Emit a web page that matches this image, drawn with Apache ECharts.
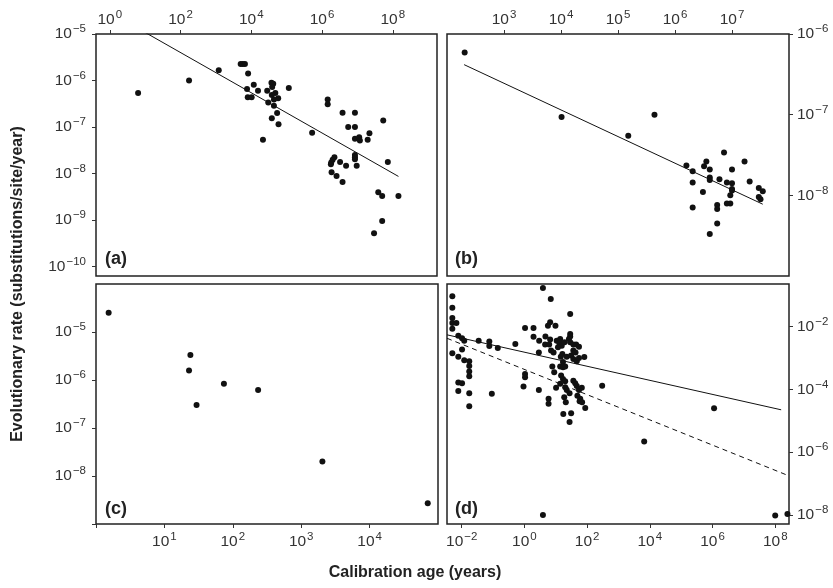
<!DOCTYPE html>
<html>
<head>
<meta charset="utf-8">
<script src="https://cdn.jsdelivr.net/npm/echarts@6/dist/echarts.min.js"></script>
<style>
  html, body { margin: 0; background: #fff; }
  #main { width: 833px; height: 588px; }
</style>
</head>
<body>
<div id="main"></div>
<script>
// all values are log10 (age in years, rate in substitutions/site/year)

// panel (a)
const ptsA = [
  [0.80,-6.27],[2.24,-6.00],[3.08,-5.78],[3.70,-5.645],[3.76,-5.645],[3.82,-5.645],
  [3.91,-5.85],[3.88,-6.18],[4.07,-6.09],[4.19,-6.22],[3.90,-6.36],[4.01,-6.36],
  [4.45,-6.22],[4.57,-6.05],[4.62,-6.07],[4.59,-6.14],[4.48,-6.47],[4.58,-6.31],
  [4.68,-6.27],[4.64,-6.41],[4.76,-6.38],[4.64,-6.54],[4.73,-6.70],[4.58,-6.81],
  [4.77,-6.94],[5.06,-6.16],[4.33,-7.27],[5.72,-7.12],[6.16,-6.41],[6.16,-6.51],
  [6.58,-6.69],[6.93,-6.69],[6.74,-7.00],[6.93,-7.00],[6.93,-7.25],[7.05,-7.22],
  [7.07,-7.29],[7.29,-7.27],[7.34,-7.13],[7.73,-6.86],[6.93,-7.60],[6.93,-7.65],
  [6.93,-7.69],[6.98,-7.83],[6.35,-7.65],[6.30,-7.70],[6.26,-7.76],[6.25,-7.80],
  [6.51,-7.75],[6.68,-7.83],[6.27,-7.97],[6.41,-8.05],[6.58,-8.18],[7.86,-7.75],
  [7.59,-8.40],[7.70,-8.48],[8.16,-8.48],[7.70,-9.02],[7.47,-9.28]
];
const fitA = [[0.80,-4.88],[8.16,-8.06]];

// panel (b)
const ptsB = [
  [2.31,-6.23],[4.01,-7.03],[5.18,-7.26],[5.64,-7.00],[6.20,-7.63],[6.31,-7.70],
  [6.31,-7.84],[6.31,-8.15],[6.49,-7.96],[6.51,-7.64],[6.55,-7.58],[6.61,-7.68],
  [6.61,-7.78],[6.61,-7.81],[6.61,-8.48],[6.74,-8.12],[6.74,-8.17],[6.74,-8.35],
  [6.78,-7.80],[6.86,-7.47],[6.91,-7.84],[6.91,-8.10],[6.97,-8.10],[6.97,-8.00],
  [7.00,-7.68],[7.00,-7.85],[7.00,-7.92],[7.00,-7.94],[7.22,-7.58],[7.31,-7.83],
  [7.47,-7.91],[7.47,-8.02],[7.50,-8.05],[7.54,-7.95]
];
const fitB = [[2.30,-6.38],[7.54,-8.11]];

// panel (c)
const ptsC = [
  [0.185,-4.60],[1.38,-5.48],[1.36,-5.80],[1.47,-6.52],[1.87,-6.08],[2.37,-6.21],
  [3.31,-7.70],[4.85,-8.57]
];

// panel (d)
const ptsD = [
  [-2.30,-1.03],[-2.30,-1.40],[-2.30,-1.72],[-2.30,-1.88],[-2.17,-1.88],[-2.30,-2.07],
  [-2.11,-2.29],[-1.99,-2.37],[-1.92,-2.45],[-1.46,-2.45],[-1.12,-2.47],[-1.12,-2.62],
  [-0.85,-2.68],[-0.29,-2.55],[-2.30,-2.85],[-1.99,-2.73],[-2.11,-2.96],[-1.92,-3.07],
  [-1.76,-3.10],[-1.76,-3.25],[-1.76,-3.43],[-1.76,-3.58],[-2.11,-3.78],[-1.99,-3.80],
  [-2.11,-4.05],[-1.76,-4.12],[-1.04,-4.14],[-1.76,-4.54],
  [0.59,-0.77],[0.84,-1.12],[1.46,-1.60],[0.75,-1.97],[0.82,-1.86],[0.99,-1.97],
  [0.02,-2.04],[0.29,-2.04],[1.46,-2.23],[1.46,-2.31],[0.29,-2.32],[0.47,-2.45],
  [0.67,-2.31],[0.82,-2.41],[0.66,-2.57],[0.79,-2.57],[1.03,-2.45],[1.14,-2.39],
  [1.12,-2.53],[1.19,-2.61],[1.28,-2.50],[1.07,-2.66],[1.42,-2.39],[1.46,-2.50],
  [1.56,-2.57],[1.65,-2.57],[1.74,-2.64],[0.85,-2.76],[0.93,-2.82],[0.46,-2.82],
  [1.21,-2.87],[1.16,-2.96],[1.35,-2.96],[1.49,-2.92],[1.56,-2.76],[1.63,-2.82],
  [1.56,-3.03],[1.67,-3.10],[1.74,-3.00],[1.91,-2.97],[1.23,-3.13],[1.14,-3.27],
  [1.23,-3.29],[1.30,-3.27],[0.89,-3.27],[0.95,-3.45],[0.02,-3.51],[0.02,-3.61],
  [-0.03,-3.91],[0.46,-4.02],[1.01,-3.95],[1.17,-3.56],[1.23,-3.67],[1.30,-3.74],
  [1.14,-3.82],[1.30,-3.93],[1.35,-4.02],[1.44,-4.12],[1.56,-3.72],[1.62,-3.80],
  [1.67,-3.89],[1.74,-4.02],[1.83,-3.95],[1.69,-4.20],[1.78,-4.30],[1.76,-4.38],
  [1.84,-4.41],[1.27,-4.25],[1.32,-4.41],[0.77,-4.30],[0.77,-4.46],[1.94,-4.59],
  [1.24,-4.78],[1.49,-4.76],[1.44,-5.04],[2.48,-3.88],
  [3.82,-5.66],[6.05,-4.60],[0.59,-8.00],[8.00,-8.02],[8.39,-7.97]
];
const fitD = [[-2.47,-2.26],[8.19,-4.65]];
const fitDdash = [[-2.47,-2.37],[8.35,-6.72]];

// tick exponents
const xTicksA = [0, 2, 4, 6, 8];
const yTicksA = [-5, -6, -7, -8, -9, -10];
const xTicksB = [3, 4, 5, 6, 7];
const yTicksB = [-6, -7, -8];
const xTicksC = [0, 1, 2, 3, 4];
const xLabelsC = [1, 2, 3, 4];
const yTicksC = [-5, -6, -7, -8, -9];
const yLabelsC = [-5, -6, -7, -8];
const xTicksD = [-2, 0, 2, 4, 6, 8];
const yTicksD = [-2, -4, -6, -8];

const FONT = 'Liberation Sans, Arial, sans-serif';
const rich = {
  b: { fontSize: 15.5, color: '#333', fontFamily: FONT, lineHeight: 16, verticalAlign: 'bottom' },
  s: { fontSize: 11.5, color: '#333', fontFamily: FONT, lineHeight: 16, verticalAlign: 'bottom', padding: [0, 0, 7, 1] }
};
function pow10(v) {
  const e = v < 0 ? '\u2212' + (-v) : String(v);
  return '{b|10}{s|' + e + '}';
}

function axis(gridIndex, position, min, max, ticks, labels, margin) {
  return {
    type: 'value', gridIndex: gridIndex, position: position, min: min, max: max,
    axisLine: { show: false, onZero: false },
    splitLine: { show: false },
    axisTick: { show: true, length: 4, customValues: ticks, lineStyle: { color: '#333', width: 1 } },
    axisLabel: { show: true, customValues: labels || ticks, margin: margin, formatter: pow10, rich: rich }
  };
}

function scatter(i, pts) {
  return {
    type: 'scatter', xAxisIndex: i, yAxisIndex: i, data: pts,
    symbolSize: 6, itemStyle: { color: '#111', opacity: 1 }, silent: true
  };
}
function fit(i, pts, dashed) {
  return {
    type: 'line', xAxisIndex: i, yAxisIndex: i, data: pts, symbol: 'none', clip: true,
    lineStyle: { color: '#111', width: 1, type: dashed ? [5, 4] : 'solid' }, silent: true
  };
}

const gridStyle = { show: true, borderColor: '#222', borderWidth: 1.5, backgroundColor: 'transparent' };

let chart = echarts.init(document.getElementById('main'));
let option = {
  animation: false,
  grid: [
    Object.assign({ left: 96, top: 34, width: 341, height: 242 }, gridStyle),
    Object.assign({ left: 447, top: 34, width: 342, height: 242 }, gridStyle),
    Object.assign({ left: 96, top: 284, width: 342, height: 240 }, gridStyle),
    Object.assign({ left: 447, top: 284, width: 342, height: 240 }, gridStyle)
  ],
  xAxis: [
    axis(0, 'top', -0.39, 9.25, xTicksA, null, 6),
    axis(1, 'top', 2, 8, xTicksB, null, 6),
    axis(2, 'bottom', 0, 5, xTicksC, xLabelsC, 10),
    axis(3, 'bottom', -2.47, 8.44, xTicksD, null, 10)
  ],
  yAxis: [
    axis(0, 'left', -10.2, -5, yTicksA, null, 10),
    axis(1, 'right', -9, -6, yTicksB, null, 8),
    axis(2, 'left', -9, -4, yTicksC, yLabelsC, 10),
    axis(3, 'right', -8.29, -0.64, yTicksD, null, 8)
  ],
  graphic: [
    { type: 'text', x: 105, y: 250, style: { text: '(a)', font: 'bold 18px ' + FONT, fill: '#222' } },
    { type: 'text', x: 455, y: 250, style: { text: '(b)', font: 'bold 18px ' + FONT, fill: '#222' } },
    { type: 'text', x: 105, y: 500, style: { text: '(c)', font: 'bold 18px ' + FONT, fill: '#222' } },
    { type: 'text', x: 455, y: 500, style: { text: '(d)', font: 'bold 18px ' + FONT, fill: '#222' } },
    { type: 'text', x: 18, y: 284, rotation: Math.PI / 2,
      style: { text: 'Evolutionary rate (substitutions/site/year)', font: 'bold 16px ' + FONT, fill: '#222', align: 'center', verticalAlign: 'middle' } },
    { type: 'text', x: 415, y: 573,
      style: { text: 'Calibration age (years)', font: 'bold 16px ' + FONT, fill: '#222', align: 'center', verticalAlign: 'middle' } }
  ],
  series: [
    fit(0, fitA), scatter(0, ptsA),
    fit(1, fitB), scatter(1, ptsB),
    scatter(2, ptsC),
    fit(3, fitD), fit(3, fitDdash, true), scatter(3, ptsD)
  ]
};
chart.setOption(option);
</script>
</body>
</html>
